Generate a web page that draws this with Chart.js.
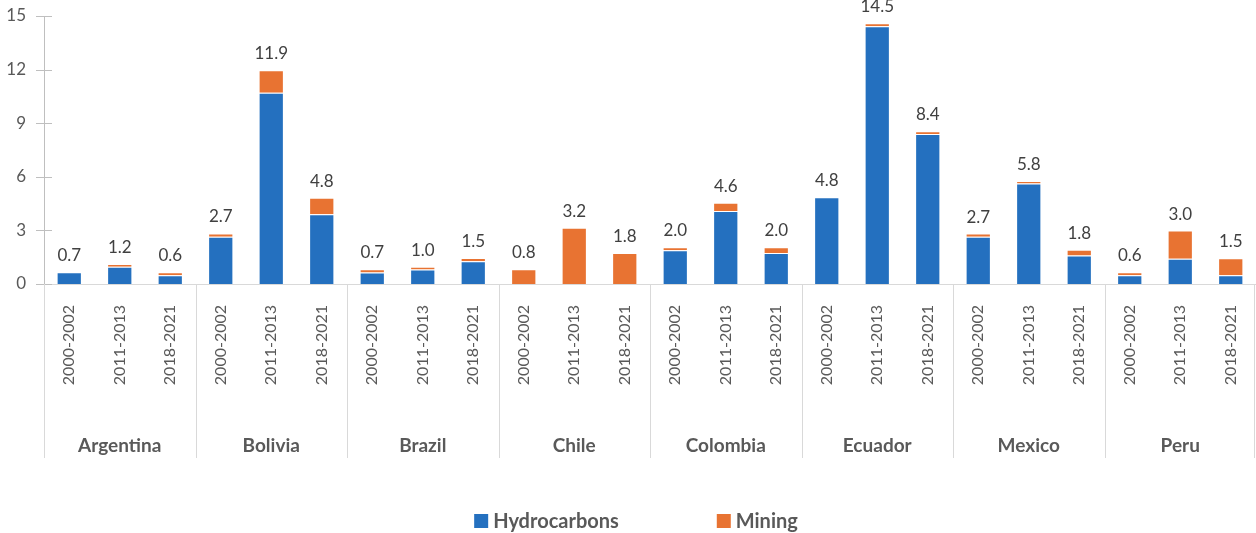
<!DOCTYPE html>
<html>
<head>
<meta charset="utf-8">
<script src="https://cdn.jsdelivr.net/npm/chart.js@4.4.1/dist/chart.umd.min.js"></script>
<style>
  html, body { margin: 0; padding: 0; background: #fff; }
  #wrap { width: 1256px; height: 533px; }
</style>
</head>
<body>
<div id="wrap"><canvas id="chart" width="1256" height="533"></canvas></div>
<script>
const countries = ['Argentina', 'Bolivia', 'Brazil', 'Chile', 'Colombia', 'Ecuador', 'Mexico', 'Peru'];
const periods = ['2000-2002', '2011-2013', '2018-2021'];

// values, 3 periods per country
const hydrocarbons = [0.66, 0.97, 0.49, 2.65, 10.70, 3.90, 0.64, 0.81, 1.28, 0, 0, 0,
  1.89, 4.09, 1.74, 4.85, 14.43, 8.40, 2.65, 5.62, 1.59, 0.49, 1.42, 0.49];
const mining = [0, 0.15, 0.17, 0.18, 1.26, 0.93, 0.19, 0.16, 0.17, 0.83, 3.15, 1.74,
  0.17, 0.46, 0.32, 0, 0.17, 0.15, 0.17, 0.15, 0.32, 0.17, 1.57, 0.95];
const totals = ['0.7', '1.2', '0.6', '2.7', '11.9', '4.8', '0.7', '1.0', '1.5', '0.8', '3.2', '1.8',
  '2.0', '4.6', '2.0', '4.8', '14.5', '8.4', '2.7', '5.8', '1.8', '0.6', '3.0', '1.5'];
const yTicks = [0, 3, 6, 9, 12, 15];

const labels = [];
countries.forEach(() => periods.forEach(p => labels.push(p)));

const FONT = 'Lato, "Noto Sans", sans-serif';
const TEXT = '#595959';
const LINE = '#D9D9D9';

const extras = {
  id: 'extras',
  afterDraw(chart) {
    const ctx = chart.ctx;
    const area = chart.chartArea;
    const y = chart.scales.y;
    ctx.save();

    // tick marks crossing the value axis
    ctx.strokeStyle = '#BFBFBF';
    ctx.lineWidth = 1;
    yTicks.forEach(v => {
      const py = Math.round(y.getPixelForValue(v)) + 0.5;
      ctx.beginPath();
      ctx.moveTo(area.left - 8, py);
      ctx.lineTo(area.left + 8, py);
      ctx.stroke();
    });

    // group separators below the axis
    const gw = area.width / countries.length;
    ctx.strokeStyle = LINE;
    for (let g = 0; g <= countries.length; g++) {
      const px = Math.min(Math.round(area.left + g * gw) + 0.5, chart.width - 1.5);
      ctx.beginPath();
      ctx.moveTo(px, area.bottom);
      ctx.lineTo(px, 458);
      ctx.stroke();
    }

    // country names
    ctx.fillStyle = TEXT;
    ctx.font = 'bold 19px ' + FONT;
    ctx.textAlign = 'center';
    ctx.textBaseline = 'middle';
    countries.forEach((c, g) => ctx.fillText(c, area.left + (g + 0.5) * gw, 446));

    // totals above each stack
    const top = chart.getDatasetMeta(1);
    ctx.fillStyle = '#404040';
    ctx.font = '17px ' + FONT;
    ctx.textBaseline = 'bottom';
    top.data.forEach((bar, i) => ctx.fillText(totals[i], bar.x, bar.y - 8));

    // legend
    ctx.font = 'bold 20px ' + FONT;
    ctx.textAlign = 'left';
    ctx.textBaseline = 'middle';
    const gap = 98;
    const items = chart.data.datasets.map(ds => ({
      label: ds.label, color: ds.backgroundColor, w: 19 + ctx.measureText(ds.label).width
    }));
    const total = items.reduce((s, it) => s + it.w, 0) + gap * (items.length - 1);
    let lx = 636 - total / 2;
    items.forEach(it => {
      ctx.fillStyle = it.color;
      ctx.fillRect(lx, 514, 14, 14);
      ctx.fillStyle = TEXT;
      ctx.fillText(it.label, lx + 19, 522);
      lx += it.w + gap;
    });

    ctx.restore();
  }
};

new Chart(document.getElementById('chart'), {
  type: 'bar',
  data: {
    labels: labels,
    datasets: [
      { label: 'Hydrocarbons', data: hydrocarbons, backgroundColor: '#2470BF',
        borderColor: 'rgba(255,255,255,0.55)', borderWidth: 1 },
      { label: 'Mining', data: mining, backgroundColor: '#E87332',
        borderColor: 'rgba(255,255,255,0.55)', borderWidth: 1 }
    ]
  },
  options: {
    responsive: false,
    animation: false,
    layout: { padding: { top: 16, right: 0, left: 0, bottom: 0 } },
    datasets: { bar: { categoryPercentage: 1, barPercentage: 0.5 } },
    plugins: { legend: { display: false }, tooltip: { enabled: false } },
    scales: {
      x: {
        stacked: true,
        grid: { display: false },
        border: { color: LINE, width: 1 },
        ticks: {
          autoSkip: false, minRotation: 90, maxRotation: 90, padding: 13,
          color: TEXT, font: { family: FONT, size: 16 }
        },
        afterFit(scale) { scale.height = 249; scale.paddingLeft = 0; scale.paddingRight = 0; }
      },
      y: {
        stacked: true,
        min: 0, max: 15,
        afterBuildTicks(scale) { scale.ticks = yTicks.map(v => ({ value: v })); },
        grid: { display: false },
        border: { color: '#BFBFBF', width: 1 },
        ticks: { padding: 10, color: TEXT, font: { family: FONT, size: 17 } },
        afterFit(scale) { scale.width = 44; scale.paddingTop = 0; scale.paddingBottom = 0; }
      }
    }
  },
  plugins: [extras]
});
</script>
</body>
</html>
